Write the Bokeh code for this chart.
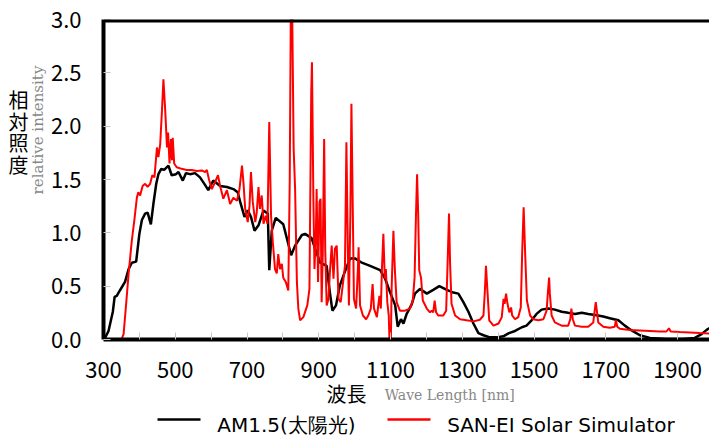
from bokeh.plotting import figure
from bokeh.models import Range1d, FixedTicker, NumeralTickFormatter, LinearAxis, Span
from bokeh.embed import file_html
from bokeh.resources import INLINE

# ---------------- data ----------------
x_ticks = [300, 500, 700, 900, 1100, 1300, 1500, 1700, 1900]
x_minor_ticks = [400, 600, 800, 1000, 1200, 1400, 1600, 1800]
y_ticks = [0.0, 0.5, 1.0, 1.5, 2.0, 2.5, 3.0]

am_nm = [300, 305, 314, 326, 331, 337, 342, 351, 360, 370, 379, 391, 400, 407, 416, 423,
         432, 439, 447, 453, 461, 469, 481, 490, 502, 509, 521, 530, 541, 555, 569, 583,
         592, 606, 625, 644, 662, 674, 681, 693, 702, 711, 721, 732, 746, 758, 762, 769,
         780, 801, 814, 823, 834, 853, 862, 880, 890, 904, 922, 931, 938, 948, 959, 971,
         987, 1001, 1020, 1043, 1071, 1085, 1099, 1113, 1120, 1129, 1136, 1145, 1159, 1168,
         1182, 1201, 1219, 1236, 1257, 1275, 1289, 1303, 1317, 1331, 1345, 1359, 1377, 1396,
         1414, 1430, 1447, 1466, 1479, 1493, 1507, 1521, 1540, 1558, 1577, 1595, 1614, 1633,
         1651, 1670, 1693, 1711, 1735, 1753, 1772, 1795, 1823, 1869, 1915, 1948, 1967, 1981,
         1995]
am_val = [0.0, 0.02, 0.08, 0.26, 0.40, 0.41, 0.44, 0.49, 0.54, 0.66, 0.72, 0.73, 0.99, 1.12,
          1.18, 1.19, 1.08, 1.27, 1.46, 1.55, 1.60, 1.59, 1.63, 1.54, 1.55, 1.57, 1.49, 1.56,
          1.55, 1.56, 1.52, 1.45, 1.40, 1.49, 1.44, 1.43, 1.41, 1.38, 1.29, 1.15, 1.21, 1.15,
          1.02, 1.07, 1.21, 1.18, 0.65, 1.02, 1.14, 1.08, 0.91, 0.79, 0.88, 0.98, 0.99, 0.95,
          0.85, 0.72, 0.69, 0.44, 0.27, 0.32, 0.51, 0.62, 0.76, 0.76, 0.72, 0.69, 0.65, 0.57,
          0.44, 0.32, 0.12, 0.19, 0.15, 0.24, 0.33, 0.43, 0.475, 0.43, 0.465, 0.50, 0.465,
          0.44, 0.43, 0.35, 0.26, 0.15, 0.06, 0.04, 0.02, 0.02, 0.03, 0.06, 0.08, 0.115, 0.13,
          0.18, 0.24, 0.28, 0.29, 0.28, 0.26, 0.25, 0.24, 0.25, 0.24, 0.23, 0.215, 0.20, 0.18,
          0.13, 0.085, 0.04, 0.015, 0.005, 0.005, 0.015, 0.05, 0.09, 0.12]

sim_nm = [300, 350, 356, 363, 370, 379, 386, 393, 397, 402, 409, 416, 423, 430, 436, 442,
          449, 453, 458, 463, 467, 472, 477, 480, 484, 488, 491, 493, 497, 504, 518, 532,
          546, 560, 574, 583, 588, 594, 602, 611, 619, 625, 634, 644, 653, 662, 672, 679,
          686, 690, 695, 702, 707, 711, 716, 723, 727, 732, 736, 741, 746, 752, 757, 762,
          767, 772, 778, 783, 787, 792, 797, 801, 808, 815, 819, 822, 826, 830, 834, 839,
          843, 848, 857, 868, 874, 879, 881, 885, 888, 892, 894, 898, 902, 905, 908, 911,
          915, 918, 922, 927, 931, 936, 941, 945, 950, 955, 961, 969, 973, 977, 981, 984,
          988, 991, 995, 998, 1004, 1009, 1011, 1015, 1023, 1032, 1038, 1045, 1050, 1054,
          1062, 1069, 1073, 1076, 1080, 1084, 1087, 1091, 1095, 1097, 1101, 1103, 1108, 1112,
          1117, 1126, 1140, 1154, 1162, 1167, 1171, 1174, 1177, 1180, 1185, 1190, 1201, 1210,
          1215, 1219, 1223, 1227, 1233, 1247, 1255, 1259, 1263, 1266, 1270, 1280, 1294, 1312,
          1331, 1349, 1359, 1363, 1366, 1370, 1375, 1387, 1401, 1410, 1415, 1418, 1422, 1426,
          1431, 1436, 1439, 1447, 1456, 1463, 1467, 1471, 1475, 1480, 1489, 1498, 1512, 1526,
          1535, 1539, 1542, 1544, 1549, 1558, 1577, 1595, 1601, 1604, 1608, 1614, 1633, 1651,
          1665, 1669, 1672, 1675, 1679, 1693, 1711, 1725, 1728, 1732, 1739, 1767, 1795, 1823,
          1850, 1869, 1876, 1881, 1906, 1934, 1962, 1995]
sim_val = [0.0, 0.0, 0.05, 0.33, 0.62, 0.93, 1.12, 1.33, 1.38, 1.35, 1.44, 1.46, 1.43, 1.46,
           1.54, 1.52, 1.80, 1.71, 1.83, 2.15, 2.44, 2.15, 1.80, 1.94, 1.65, 1.88, 1.68, 1.89,
           1.65, 1.615, 1.60, 1.59, 1.59, 1.58, 1.585, 1.57, 1.59, 1.50, 1.41, 1.475, 1.54,
           1.44, 1.32, 1.40, 1.27, 1.33, 1.30, 1.41, 1.63, 1.475, 1.225, 1.10, 1.255, 1.57,
           1.29, 1.10, 1.19, 1.43, 1.225, 1.35, 1.085, 1.16, 1.085, 2.04, 1.16, 0.91, 0.66,
           0.62, 0.80, 0.66, 0.71, 0.58, 0.54, 0.46, 1.475, 3.05, 3.05, 1.79, 1.41, 0.54, 0.29,
           0.18, 0.21, 0.32, 0.475, 2.32, 2.60, 1.32, 0.66, 1.005, 1.41, 0.54, 1.29, 1.32, 0.35,
           0.79, 1.88, 0.85, 0.32, 0.38, 0.63, 0.88, 0.57, 0.85, 0.88, 0.38, 0.35, 0.57, 0.69,
           1.85, 0.85, 0.32, 1.16, 2.21, 1.16, 0.38, 0.29, 0.66, 0.865, 0.32, 0.225, 0.19,
           0.225, 0.29, 0.52, 0.29, 0.21, 0.41, 0.29, 0.66, 0.99, 0.57, 0.66, 0.35, 0.225, 0.0,
           0.0, 0.475, 1.02, 0.66, 0.35, 0.27, 0.27, 0.29, 0.365, 0.58, 1.18, 1.55, 1.18, 0.65,
           0.58, 0.365, 0.29, 0.255, 0.27, 0.255, 0.365, 0.255, 0.225, 0.225, 0.27, 0.71, 1.18,
           0.71, 0.335, 0.225, 0.19, 0.18, 0.17, 0.185, 0.225, 0.46, 0.69, 0.46, 0.18, 0.13,
           0.15, 0.21, 0.38, 0.335, 0.43, 0.335, 0.255, 0.30, 0.225, 0.19, 0.21, 0.30, 0.83,
           1.24, 0.83, 0.365, 0.225, 0.19, 0.18, 0.19, 0.27, 0.46, 0.58, 0.43, 0.225, 0.16,
           0.13, 0.13, 0.19, 0.29, 0.19, 0.13, 0.12, 0.12, 0.16, 0.27, 0.35, 0.27, 0.16, 0.12,
           0.11, 0.12, 0.18, 0.12, 0.10, 0.09, 0.085, 0.08, 0.075, 0.075, 0.105, 0.075, 0.07,
           0.065, 0.06, 0.055]

series_labels = ["AM1.5(太陽光)", "SAN-EI Solar Simulator"]
series_colors = ["black", "#ff0000"]

# axis titles (text, and the data coordinate each is centred on)
y_title_chars = ["相", "対", "照", "度"]
y_title_pos = [2.251, 2.047, 1.843, 1.639]
y_title_en = "relative intensity"
y_title_en_pos = 1.964
x_title_jp = "波長"
x_title_jp_pos = 977
x_title_en = "Wave Length  [nm]"
x_title_en_pos = 1271

# legend row: sample-line spans and label centres, in the x data units
legend_line_spans = [(450.5, 570.4), (1091.6, 1211.5)]
legend_label_pos = [810, 1575]

# ---------------- figure ----------------
W, H = 709, 441
FL, FT, FB = 103, 19, 339  # frame left / top / bottom on canvas

p = figure(width=W, height=H, output_backend="svg", toolbar_location=None,
           x_range=Range1d(300, 1989), y_range=Range1d(0, 3.0),
           min_border_left=FL, min_border_right=0, min_border_top=FT,
           min_border_bottom=H - FB)
p.outline_line_color = None
p.xgrid.visible = False
p.ygrid.visible = False
p.background_fill_color = "white"
p.border_fill_color = "white"

TICK_FONT = "Noto Sans CJK JP"
for ax in (p.xaxis[0], p.yaxis[0]):
    ax.axis_line_width = 4
    ax.axis_line_color = "black"
    ax.major_tick_in = 7
    ax.major_tick_out = 0
    ax.minor_tick_in = 7
    ax.minor_tick_out = 0
    ax.major_tick_line_color = "#c8c8c8"
    ax.minor_tick_line_color = "#c8c8c8"
    ax.major_label_text_font = TICK_FONT
    ax.major_label_text_font_size = "22px"
    ax.major_label_text_color = "black"

p.xaxis[0].ticker = FixedTicker(ticks=x_ticks, minor_ticks=x_minor_ticks)
p.xaxis[0].major_label_standoff = 22
p.yaxis[0].ticker = FixedTicker(ticks=y_ticks, minor_ticks=[])
p.yaxis[0].formatter = NumeralTickFormatter(format="0.0")
p.yaxis[0].major_label_standoff = 22

# top border
p.add_layout(Span(location=3.0, dimension="width", line_color="black", line_width=6))


def text_axis(ticks, labels, font, size, color, standoff, orientation="horizontal",
              line_height=1.2):
    return LinearAxis(ticker=FixedTicker(ticks=ticks, minor_ticks=[]),
                      major_label_overrides=dict(zip(ticks, labels)),
                      axis_line_color=None, major_tick_line_color=None,
                      minor_tick_line_color=None, major_tick_in=0, major_tick_out=0,
                      minor_tick_in=0, minor_tick_out=0, major_label_standoff=standoff,
                      major_label_text_font=font, major_label_text_font_size=size,
                      major_label_text_color=color, major_label_orientation=orientation,
                      major_label_text_line_height=line_height)


def line_axis(span, color, width):
    return LinearAxis(ticker=FixedTicker(ticks=[], minor_ticks=[]), bounds=span,
                      axis_line_color=color, axis_line_width=width,
                      major_tick_line_color=None, minor_tick_line_color=None,
                      major_tick_in=0, major_tick_out=0, minor_tick_in=0, minor_tick_out=0,
                      major_label_standoff=0)


# left titles
p.add_layout(text_axis([y_title_en_pos], [y_title_en], "DejaVu Serif", "15px", "#888888", 0,
                       "vertical"), "left")
p.add_layout(text_axis(y_title_pos, y_title_chars, "Noto Sans CJK JP", "20px", "black", -2),
             "left")

# bottom titles
p.add_layout(text_axis([x_title_en_pos], [x_title_en], "DejaVu Serif", "14px", "#888888", 6),
             "below")
p.add_layout(text_axis([x_title_jp_pos], [x_title_jp + "\n"], "Noto Sans CJK JP", "20px",
                       "black", -27, line_height=0.3), "below")

r_am = p.line(am_nm, am_val, line_color=series_colors[0], line_width=2.5)
r_sim = p.line(sim_nm, sim_val, line_color=series_colors[1], line_width=2)

# legend row (sample lines + labels)
p.add_layout(line_axis(legend_line_spans[0], series_colors[0], 2.5), "below")
p.add_layout(line_axis(legend_line_spans[1], series_colors[1], 2.5), "below")
p.add_layout(text_axis(legend_label_pos, series_labels, "DejaVu Sans", "20px", "black", -7),
             "below")

open("out.html", "w").write(file_html(p, INLINE))
